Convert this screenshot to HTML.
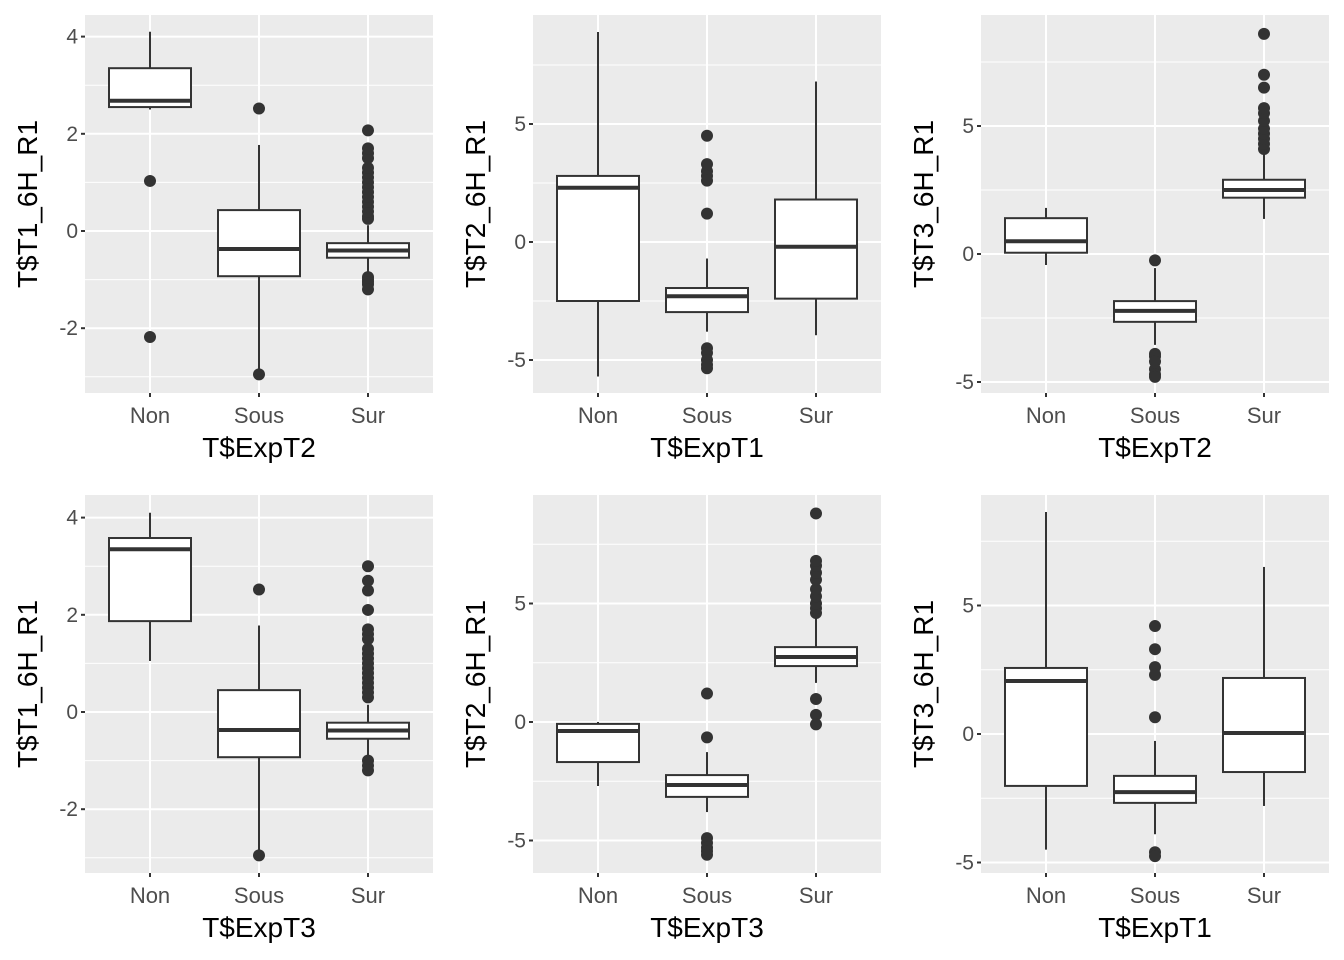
<!DOCTYPE html><html><head><meta charset="utf-8"><style>body{margin:0;background:#fff}svg{display:block}</style></head><body>
<svg id="s" width="1344" height="960" xmlns="http://www.w3.org/2000/svg" font-family="Liberation Sans, sans-serif"></svg>
<script>
const P=[
{l:85,t:15,z:231,k:48.6,tk:[-2,0,2,4],mn:[-3,-1,1,3],yl:"T$T1_6H_R1",xl:"T$ExpT2",b:[
[2.55,2.68,3.35,2.5,4.1,[1.03,-2.18]],
[-0.93,-0.37,0.43,-2.95,1.77,[2.52,-2.95]],
[-0.55,-0.4,-0.25,-0.9,0.12,[0.25,0.3,0.4,0.5,0.6,0.7,0.8,0.9,1.0,1.1,1.2,1.3,1.5,1.6,1.7,2.07,-0.95,-1.0,-1.05,-1.1,-1.2]]]},
{l:533,t:15,z:242,k:23.6,tk:[-5,0,5],mn:[-2.5,2.5,7.5],yl:"T$T2_6H_R1",xl:"T$ExpT1",b:[
[-2.5,2.3,2.8,-5.7,8.9,[]],
[-2.97,-2.3,-1.95,-3.8,-0.7,[4.5,3.3,3.0,2.8,2.6,1.2,-4.5,-4.7,-5.0,-5.2,-5.35]],
[-2.4,-0.2,1.8,-3.95,6.8,[]]]},
{l:981,t:15,z:254,k:25.6,tk:[-5,0,5],mn:[-2.5,2.5,7.5],yl:"T$T3_6H_R1",xl:"T$ExpT2",b:[
[0.05,0.5,1.4,-0.43,1.8,[]],
[-2.65,-2.22,-1.84,-3.55,-0.55,[-0.25,-3.9,-4.0,-4.2,-4.5,-4.7,-4.8]],
[2.2,2.5,2.9,1.37,4.0,[4.1,4.3,4.5,4.7,4.9,5.2,5.5,5.7,6.5,7.0,8.6]]]},
{l:85,t:495,z:712,k:48.6,tk:[-2,0,2,4],mn:[-3,-1,1,3],yl:"T$T1_6H_R1",xl:"T$ExpT3",b:[
[1.87,3.35,3.58,1.05,4.1,[]],
[-0.93,-0.37,0.45,-2.95,1.78,[2.52,-2.95]],
[-0.55,-0.38,-0.22,-0.9,0.15,[0.3,0.4,0.5,0.6,0.7,0.8,0.9,1.0,1.1,1.2,1.3,1.5,1.6,1.7,2.1,2.5,2.7,3.0,-1.0,-1.1,-1.2]]]},
{l:533,t:495,z:722,k:23.7,tk:[-5,0,5],mn:[-2.5,2.5,7.5],yl:"T$T2_6H_R1",xl:"T$ExpT3",b:[
[-1.69,-0.38,-0.08,-2.7,0,[]],
[-3.16,-2.66,-2.24,-3.8,-1.27,[1.2,-0.65,-4.9,-5.1,-5.3,-5.45,-5.6]],
[2.36,2.74,3.16,1.65,4.5,[0.97,0.3,-0.1,4.6,4.8,5.0,5.3,5.6,6.0,6.3,6.6,6.8,8.8]]]},
{l:981,t:495,z:734,k:25.7,tk:[-5,0,5],mn:[-2.5,2.5,7.5],yl:"T$T3_6H_R1",xl:"T$ExpT1",b:[
[-2.02,2.06,2.57,-4.5,8.64,[]],
[-2.68,-2.26,-1.63,-3.9,-0.27,[4.2,3.3,2.6,2.3,0.65,-4.6,-4.75]],
[-1.48,0.04,2.18,-2.8,6.5,[]]]}];
let h="";const W=348,H=378,cats=["Non","Sous","Sur"];
for(const p of P){const Y=v=>p.z-p.k*v,r=p.l+W,bt=p.t+H;
h+=`<rect x="${p.l}" y="${p.t}" width="${W}" height="${H}" fill="#ebebeb"/>`;
for(const m of p.mn){const y=Y(m);if(y>p.t&&y<bt)h+=`<line x1="${p.l}" x2="${r}" y1="${y}" y2="${y}" stroke="#fff" stroke-width="1"/>`;}
for(const t of p.tk){const y=Y(t);h+=`<line x1="${p.l}" x2="${r}" y1="${y}" y2="${y}" stroke="#fff" stroke-width="2"/><line x1="${p.l-4}" x2="${p.l}" y1="${y}" y2="${y}" stroke="#333" stroke-width="2"/><text x="${p.l-7}" y="${y+7}" text-anchor="end" font-size="21" fill="#4d4d4d">${t}</text>`;}
p.b.forEach((b,i)=>{const x=p.l+65+109*i;
h+=`<line x1="${x}" x2="${x}" y1="${p.t}" y2="${bt}" stroke="#fff" stroke-width="2"/><line x1="${x}" x2="${x}" y1="${bt}" y2="${bt+4}" stroke="#333" stroke-width="2"/><text x="${x}" y="${bt+30}" text-anchor="middle" font-size="22" fill="#4d4d4d">${cats[i]}</text>`;});
p.b.forEach((b,i)=>{const x=p.l+65+109*i,[q1,md,q3,lo,hi,o]=b;
h+=`<line x1="${x}" x2="${x}" y1="${Y(hi)}" y2="${Y(q3)}" stroke="#333" stroke-width="2"/><line x1="${x}" x2="${x}" y1="${Y(q1)}" y2="${Y(lo)}" stroke="#333" stroke-width="2"/><rect x="${x-41}" y="${Y(q3)}" width="82" height="${Y(q1)-Y(q3)}" fill="#fff" stroke="#333" stroke-width="2"/><line x1="${x-41}" x2="${x+41}" y1="${Y(md)}" y2="${Y(md)}" stroke="#333" stroke-width="4"/>`;
for(const v of o)h+=`<circle cx="${x}" cy="${Y(v)}" r="6" fill="#333"/>`;});
h+=`<text x="${p.l+W/2}" y="${bt+64}" text-anchor="middle" font-size="28">${p.xl}</text><text transform="translate(${p.l-48},${p.t+H/2}) rotate(-90)" text-anchor="middle" font-size="28">${p.yl}</text>`;}
document.getElementById("s").innerHTML=h;
</script></body></html>
